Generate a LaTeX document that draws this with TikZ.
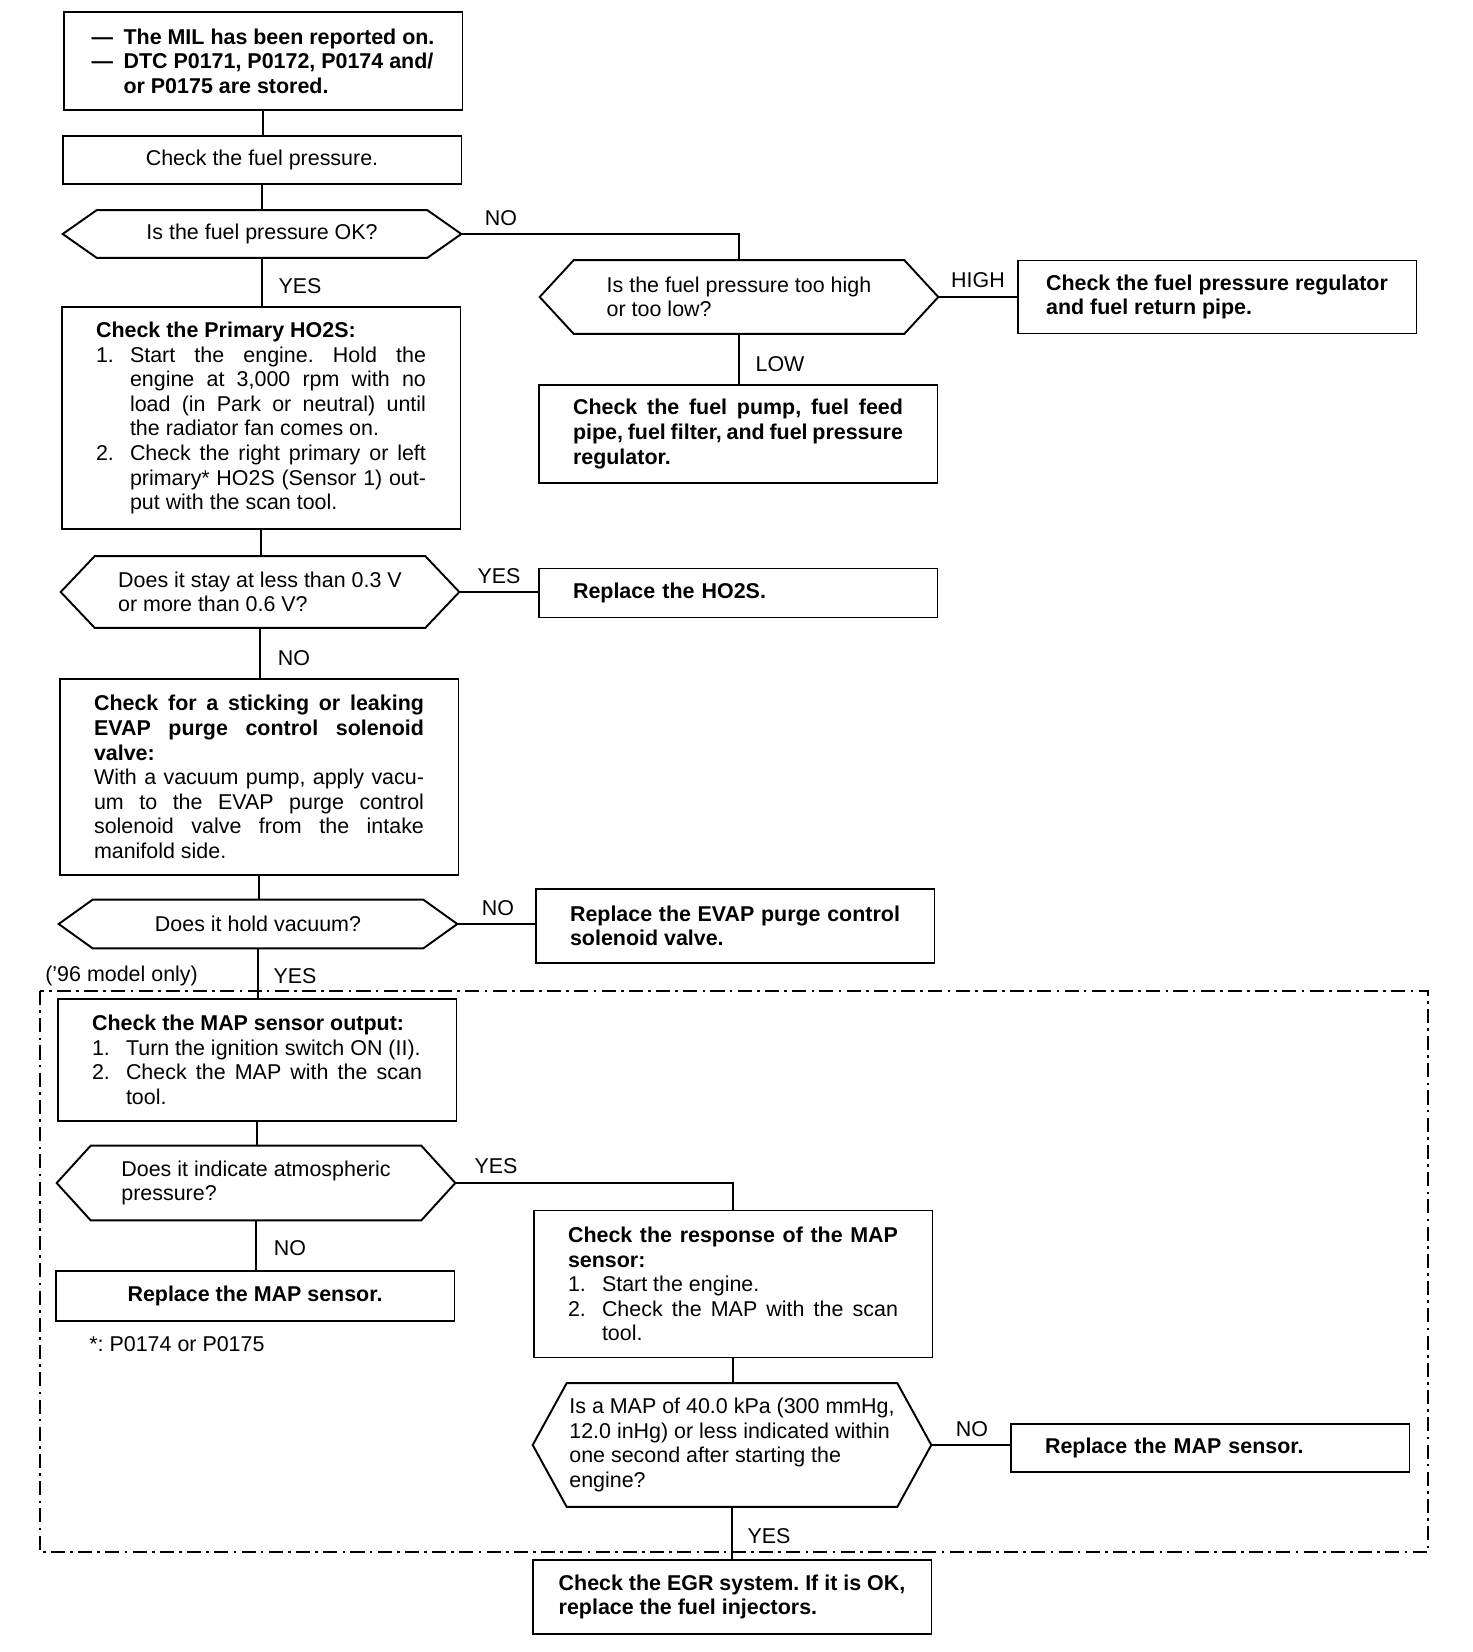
\documentclass[tikz,border=0pt]{standalone}
\usepackage{fontspec}
\setmainfont{Liberation Sans}
\setlength{\parindent}{0pt}
\frenchspacing
\newcommand{\numitem}[1]{\par\noindent\hangindent=0.68cm\hangafter=1\makebox[0.68cm][l]{#1}}

\begin{document}
\begin{tikzpicture}[x=0.02cm,y=-0.02cm,
  font=\fontsize{12.2pt}{14pt}\selectfont,
  boxline/.style={line width=1.1pt},
  stepbox/.style={draw,boxline,inner xsep=0pt,inner ysep=0pt,minimum width=7.98cm},
  askbox/.style={inner sep=0pt,align=left,minimum width=7.96cm},
  textpara/.style={text width=6.6cm,align=justify},
  textleft/.style={text width=6.6cm,align=left},
  flow/.style={line width=0.9pt},
  answer/.style={inner sep=0pt}]
\useasboundingbox (0,0) rectangle (1472,1652);

% '96 model frame
\draw[line width=0.8pt,dash pattern=on 8pt off 3pt on 1.5pt off 3pt] (40,991) rectangle (1428,1552);

% left column
\node[stepbox,minimum height=1.96cm,align=left] (start) at (263,61)
  {\textbf{\makebox[0.64cm][l]{---}The MIL has been reported on.}\\
   \textbf{\makebox[0.64cm][l]{---}DTC P0171, P0172, P0174 and/}\\
   \textbf{\hspace*{0.64cm}or P0175 are stored.}};
\node[stepbox,minimum height=0.96cm] (fuelp) at (262,160) {Check the fuel pressure.};
\node[askbox,minimum height=0.94cm] (q1) at (262,234) {Is the fuel pressure OK?};
\node[stepbox,textpara,minimum height=4.44cm] (ho2s) at (261,418)
  {\textbf{Check the Primary HO2S:}
   \numitem{1.}Start the engine. Hold the\linebreak engine at 3,000 rpm with no\linebreak load (in Park or neutral) until\linebreak the radiator fan comes on.
   \numitem{2.}Check the right primary or left\linebreak primary* HO2S (Sensor 1) out-\linebreak put with the scan tool.\par};
\node[askbox,minimum height=1.42cm] (q3) at (260,592) {Does it stay at less than 0.3 V\\or more than 0.6 V?};
\node[stepbox,textpara,minimum height=3.92cm] (evap) at (259,777)
  {\textbf{Check for a sticking or leaking\linebreak EVAP purge control solenoid\linebreak valve:}\par
   With a vacuum pump, apply vacu-\linebreak um to the EVAP purge control\linebreak solenoid valve from the intake\linebreak manifold side.};
\node[askbox,minimum height=0.96cm] (q4) at (258,924) {Does it hold vacuum?};
\node[stepbox,textpara,minimum height=2.44cm] (mapout) at (257,1060)
  {\textbf{Check the MAP sensor output:}
   \numitem{1.}Turn the ignition switch ON (II).
   \numitem{2.}Check the MAP with the scan\linebreak tool.\par};
\node[askbox,minimum height=1.48cm] (q5) at (256,1183) {Does it indicate atmospheric\\pressure?};
\node[stepbox,minimum height=1.0cm] (mapbad1) at (255,1296) {\textbf{Replace the MAP sensor.}};
\node[answer,anchor=west] (note) at (89,1344) {*: P0174 or P0175};

% middle column
\node[askbox,minimum height=1.46cm] (q2) at (739,297) {Is the fuel pressure too high\\or too low?};
\node[stepbox,textpara,minimum height=1.96cm] (low) at (738,434)
  {\textbf{Check the fuel pump, fuel feed\linebreak pipe, fuel filter, and fuel pressure\linebreak regulator.}};
\node[stepbox,textleft,minimum height=0.98cm] (ho2sbad) at (738,593) {\textbf{Replace the HO2S.}};
\node[stepbox,textpara,minimum height=1.48cm] (evapbad) at (735,926)
  {\textbf{Replace the EVAP purge control\linebreak solenoid valve.}};
\node[stepbox,textpara,minimum height=2.94cm] (mapresp) at (733,1284)
  {\textbf{Check the response of the MAP\linebreak sensor:}
   \numitem{1.}Start the engine.
   \numitem{2.}Check the MAP with the scan\linebreak tool.\par};
\node[askbox,minimum height=2.46cm] (q6) at (732,1445)
  {Is a MAP of 40.0 kPa (300 mmHg,\\12.0 inHg) or less indicated within\\one second after starting the\\engine?};
\node[stepbox,align=left,minimum height=1.48cm] (egr) at (732,1597)
  {\textbf{Check the EGR system. If it is OK,}\\\textbf{replace the fuel injectors.}};

% right column
\node[stepbox,align=left,minimum height=1.46cm] (high) at (1217,297)
  {\textbf{Check the fuel pressure regulator}\\\textbf{and fuel return pipe.}};
\node[stepbox,textleft,minimum height=0.96cm] (mapbad2) at (1210,1448) {\textbf{Replace the MAP sensor.}};

% question outlines
\foreach \q in {q1,q2,q3,q4,q5,q6} {
\draw[boxline] ([xshift=0.68cm]\q.north west) -- ([xshift=-0.68cm]\q.north east) -- (\q.east)
  -- ([xshift=-0.68cm]\q.south east) -- ([xshift=0.68cm]\q.south west) -- (\q.west) -- cycle;
}

% connectors
\foreach \a/\b in {start/fuelp,fuelp/q1,q1/ho2s,q2/low,ho2s/q3,q3/evap,evap/q4,q4/mapout,mapout/q5,q5/mapbad1,mapresp/q6,q6/egr} {
\draw[flow] (\a.south) -- (\a.south |- \b.north);
}
\foreach \a/\b in {q2/high,q3/ho2sbad,q4/evapbad,q6/mapbad2} {
\draw[flow] (\a.east) -- (\a.east -| \b.west);
}
\draw[flow] (q1.east) -| (q2.north);
\draw[flow] (q5.east) -| (mapresp.north);

% answers
\node[answer] (noA) at (501,218) {NO};
\node[answer] (yesA) at (300,286) {YES};
\node[answer] (highA) at (978,280) {HIGH};
\node[answer] (lowA) at (780,364) {LOW};
\node[answer] (yesB) at (499,576) {YES};
\node[answer] (noB) at (294,658) {NO};
\node[answer] (noC) at (498,908) {NO};
\node[answer,anchor=west] (model) at (45,976) {('96 model only)};
\node[answer] (yesC) at (295,976) {YES};
\node[answer] (yesD) at (496,1166) {YES};
\node[answer] (noD) at (290,1248) {NO};
\node[answer] (noE) at (972,1429) {NO};
\node[answer] (yesE) at (769,1536) {YES};
\end{tikzpicture}
\end{document}
